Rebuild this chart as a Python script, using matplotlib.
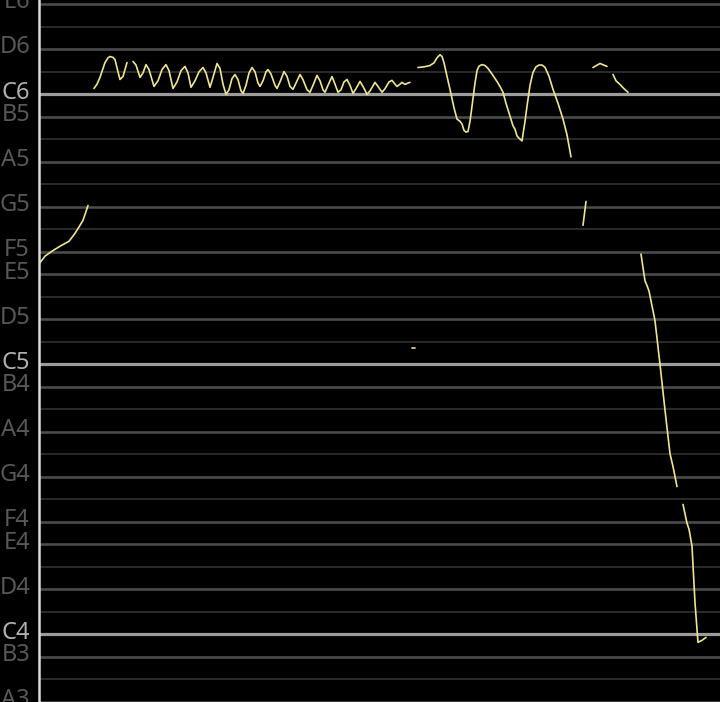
import numpy as np
import matplotlib
matplotlib.use("Agg")
import matplotlib.pyplot as plt

# pitch track, time in seconds, pitch as MIDI note number (C4 = 60)
seg1_t = [0.00, 0.06, 0.13, 0.21, 0.30, 0.36, 0.41, 0.44, 0.47, 0.49]
seg1_p = [76.46, 76.81, 77.03, 77.25, 77.47, 77.82, 78.18, 78.40, 78.79, 79.06]

seg2_t = [0.55, 0.58, 0.61, 0.64, 0.66, 0.69, 0.71, 0.74, 0.76, 0.79, 0.81, 0.84, 0.86, 0.88]
seg2_p = [84.26, 84.45, 84.75, 85.15, 85.41, 85.62, 85.68, 85.64, 85.54, 85.00, 84.66, 84.79, 85.10, 85.41]

seg3_t = [0.94, 0.97, 1.01, 1.04, 1.07, 1.10, 1.15, 1.19, 1.23, 1.27, 1.30, 1.34,
          1.38, 1.42, 1.46, 1.49, 1.52, 1.56, 1.60, 1.64, 1.67, 1.71, 1.74, 1.78,
          1.81, 1.84, 1.87, 1.90, 1.93, 1.96, 1.99, 2.02, 2.04, 2.07, 2.10, 2.13,
          2.16, 2.19, 2.21, 2.24, 2.27, 2.29, 2.32, 2.36, 2.38, 2.41, 2.45, 2.48,
          2.51, 2.54, 2.57, 2.61, 2.64, 2.68, 2.71, 2.74, 2.78, 2.81, 2.84, 2.86,
          2.89, 2.93, 2.96, 2.99, 3.02, 3.05, 3.08, 3.11, 3.14, 3.17, 3.21, 3.24,
          3.28, 3.31, 3.36, 3.39, 3.43, 3.46, 3.50, 3.53, 3.56, 3.58, 3.61, 3.63,
          3.66, 3.69, 3.71]
seg3_p = [85.46, 85.30, 84.75, 84.95, 85.32, 85.10, 84.35, 84.60, 85.10, 85.32, 85.05, 84.26,
          84.55, 85.05, 85.24, 84.95, 84.31, 84.60, 85.00, 85.19, 84.95, 84.31, 84.75, 85.37,
          85.15, 84.45, 84.00, 84.20, 84.70, 84.88, 84.65, 84.15, 84.04, 84.40, 84.95, 85.19,
          85.00, 84.50, 84.35, 84.60, 85.00, 85.10, 84.90, 84.40, 84.26, 84.55, 85.01, 84.80,
          84.35, 84.22, 84.50, 84.88, 84.65, 84.20, 84.09, 84.40, 84.84, 84.60, 84.20, 84.09,
          84.40, 84.79, 84.45, 84.09, 84.20, 84.55, 84.66, 84.40, 84.04, 84.25, 84.57, 84.35,
          84.00, 84.15, 84.53, 84.35, 84.09, 84.25, 84.55, 84.62, 84.45, 84.35, 84.45, 84.53,
          84.44, 84.50, 84.53]

dot_t = [3.73, 3.76]
dot_p = [72.75, 72.75]

seg4_t = [3.79, 3.85, 3.91, 3.95, 3.98, 4.01, 4.03, 4.05, 4.08, 4.11, 4.15, 4.18,
          4.21, 4.23, 4.25, 4.27, 4.29, 4.31, 4.33, 4.36, 4.38, 4.40, 4.43, 4.46,
          4.49, 4.53, 4.58, 4.61, 4.64, 4.67, 4.71, 4.74, 4.76, 4.78, 4.80, 4.83,
          4.86, 4.88, 4.91, 4.94, 4.97, 5.00, 5.03, 5.06, 5.10, 5.14, 5.19, 5.24,
          5.28, 5.32]
seg4_p = [85.19, 85.22, 85.28, 85.40, 85.62, 85.76, 85.68, 85.40, 84.80, 84.22, 83.40, 82.90,
          82.80, 82.68, 82.40, 82.32, 82.35, 82.80, 83.47, 84.50, 85.05, 85.25, 85.32, 85.28,
          85.15, 84.90, 84.57, 84.35, 84.09, 83.60, 83.03, 82.60, 82.45, 82.15, 82.05, 81.93,
          82.80, 83.47, 84.40, 84.97, 85.22, 85.30, 85.30, 85.20, 84.80, 84.22, 83.60, 82.90,
          82.20, 81.22]

seg5_t = [5.44, 5.47]
seg5_p = [78.18, 79.24]

seg6_t = [5.54, 5.61, 5.68]
seg6_p = [85.19, 85.37, 85.24]

seg7_t = [5.74, 5.77, 5.81, 5.85, 5.89]
seg7_p = [84.88, 84.60, 84.44, 84.25, 84.09]

seg8_t = [6.02, 6.04, 6.06, 6.08, 6.10, 6.16, 6.21, 6.26, 6.31, 6.34, 6.38]
seg8_p = [76.90, 76.30, 75.71, 75.50, 75.26, 73.94, 72.00, 69.97, 68.03, 67.46, 66.57]

seg9_t = [6.44, 6.48, 6.50, 6.53, 6.56, 6.59, 6.63, 6.67]
seg9_p = [65.78, 64.94, 64.68, 63.93, 61.41, 59.65, 59.74, 59.87]

note_names = ["C", "C#", "D", "D#", "E", "F", "F#", "G", "G#", "A", "A#", "B"]

segments = [(seg1_t, seg1_p), (seg2_t, seg2_p), (seg3_t, seg3_p), (dot_t, dot_p),
            (seg4_t, seg4_p), (seg5_t, seg5_p), (seg6_t, seg6_p), (seg7_t, seg7_p),
            (seg8_t, seg8_p), (seg9_t, seg9_p)]

fig = plt.figure(figsize=(7.2, 7.02), dpi=100, facecolor="black")
ax = fig.add_axes([39 / 720, 0, 681 / 720, 1], facecolor="black")
ax.set_xlim(0, 6.81)
ax.set_ylim(57.22, 88.19)

midis = np.arange(57, 89)
ax.set_yticks(midis)
ax.set_yticklabels([])
ax.set_xticks([])

ytrans = ax.get_yaxis_transform()
for m, tick in zip(midis, ax.yaxis.get_major_ticks()):
    name = note_names[m % 12]
    octave = m // 12 - 1
    if name == "C":
        col, lw, tl = "#9c9c9c", 2.3, 6
    elif "#" in name:
        col, lw, tl = "#2b2b2b", 1.4, 3
    else:
        col, lw, tl = "#4b4b4b", 1.9, 0
    ax.axhline(m, color=col, lw=lw, zorder=1)
    tick.tick1line.set_color(col)
    tick.tick1line.set_markersize(tl)
    tick.tick1line.set_markeredgewidth(lw)
    if "#" not in name:
        tcol = "#b0b0b0" if name == "C" else "#585858"
        ax.text(-9 / 681, m + 0.08, f"{name}{octave}", transform=ytrans, ha="right",
                va="center", fontsize=17, color=tcol, family="Noto Sans",
                clip_on=False)

for t, p in segments:
    ax.plot(t, p, color="#efe58c", lw=1.2, solid_capstyle="round", zorder=3)

for s in ["top", "right", "bottom"]:
    ax.spines[s].set_visible(False)
ax.spines["left"].set_color("#dcdcdc")
ax.spines["left"].set_linewidth(1.8)
ax.spines["left"].set_zorder(4)

fig.savefig("out.png", dpi=100, facecolor="black")
